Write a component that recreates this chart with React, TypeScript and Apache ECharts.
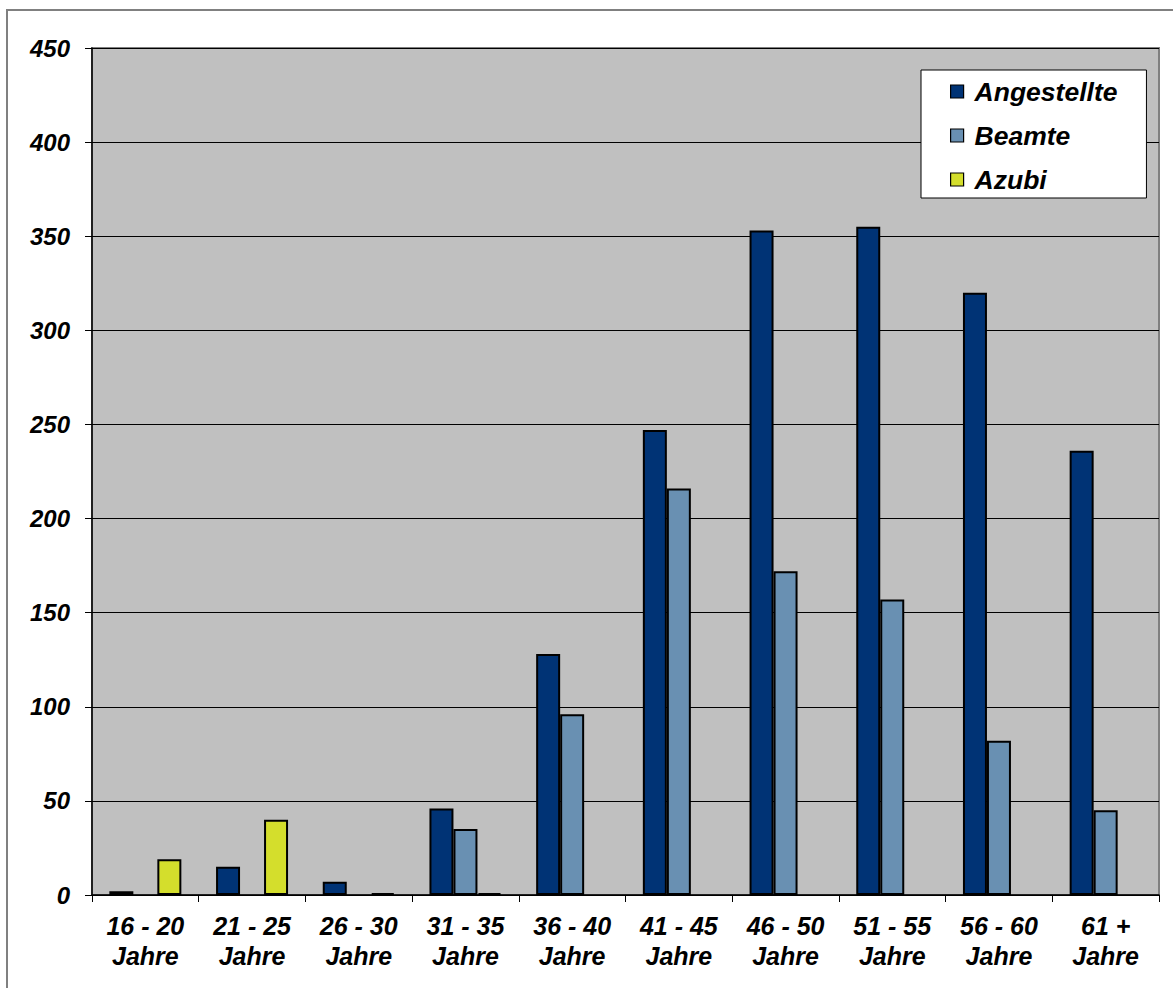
import React, { useEffect, useRef } from "react";
import * as echarts from "echarts";

// Altersgruppen
const categories = [
  "16 - 20\nJahre",
  "21 - 25\nJahre",
  "26 - 30\nJahre",
  "31 - 35\nJahre",
  "36 - 40\nJahre",
  "41 - 45\nJahre",
  "46 - 50\nJahre",
  "51 - 55\nJahre",
  "56 - 60\nJahre",
  "61 +\nJahre",
];

const angestellte = [2, 15, 7, 46, 128, 247, 353, 355, 320, 236];
const beamte = [0, 0, 0, 35, 96, 216, 172, 157, 82, 45];
const azubi = [19, 40, 1, 1, 0, 0, 0, 0, 0, 0];

const yTicks = { min: 0, max: 450, interval: 50 };

const FONT = "'Liberation Sans', Arial, Helvetica, sans-serif";

// Zero values are left empty so no outline is drawn on the baseline
const toBarData = (values: number[]) => values.map((v) => (v === 0 ? "-" : v));

export default function App() {
  const ref = useRef<HTMLDivElement>(null);

  useEffect(() => {
    if (!ref.current) return;
    const chart = echarts.init(ref.current, undefined, { renderer: "svg" });

    const barStyle = (color: string) => ({
      color,
      borderColor: "#000000",
      borderWidth: 2,
    });

    chart.setOption({
      animation: false,
      backgroundColor: "#ffffff",
      textStyle: { fontFamily: FONT },
      graphic: [
        {
          type: "rect",
          shape: { x: 7, y: 10, width: 1300, height: 1100 },
          style: { fill: "none", stroke: "#808080", lineWidth: 2 },
          silent: true,
          z: -1,
        },
      ],
      grid: {
        left: 92,
        top: 48,
        right: 14,
        bottom: 93,
        show: true,
        backgroundColor: "#C0C0C0",
        borderColor: "#808080",
        borderWidth: 2,
      },
      legend: {
        orient: "vertical",
        left: 921,
        top: 70,
        backgroundColor: "#ffffff",
        borderColor: "#000000",
        borderWidth: 1,
        borderRadius: 0,
        padding: [8, 29, 5, 29],
        itemGap: 17,
        itemWidth: 13,
        itemHeight: 13,
        icon: "rect",
        textStyle: {
          fontFamily: FONT,
          fontSize: 26.5,
          fontWeight: "bold",
          fontStyle: "italic",
          color: "#000000",
          padding: [0, 0, 0, 6],
        },
        itemStyle: { borderColor: "#000000", borderWidth: 1.2 },
        data: ["Angestellte", "Beamte", "Azubi"],
      },
      xAxis: {
        type: "category",
        data: categories,
        boundaryGap: true,
        axisLine: { show: true, lineStyle: { color: "#000000", width: 1.5 } },
        axisTick: {
          show: true,
          alignWithLabel: false,
          length: 7,
          lineStyle: { color: "#000000", width: 1 },
        },
        axisLabel: {
          interval: 0,
          margin: 16,
          fontFamily: FONT,
          fontSize: 25,
          fontWeight: "bold",
          fontStyle: "italic",
          color: "#000000",
          lineHeight: 30,
          align: "center",
        },
      },
      yAxis: {
        type: "value",
        min: yTicks.min,
        max: yTicks.max,
        interval: yTicks.interval,
        axisLine: { show: true, lineStyle: { color: "#000000", width: 1.5 } },
        axisTick: {
          show: true,
          length: 7,
          lineStyle: { color: "#000000", width: 1 },
        },
        splitLine: { show: true, lineStyle: { color: "#000000", width: 1 } },
        axisLabel: {
          margin: 22,
          fontFamily: FONT,
          fontSize: 24,
          fontWeight: "bold",
          fontStyle: "italic",
          color: "#000000",
        },
      },
      series: [
        {
          name: "Angestellte",
          type: "bar",
          data: toBarData(angestellte),
          barWidth: 24,
          barGap: "0%",
          itemStyle: barStyle("#003375"),
        },
        {
          name: "Beamte",
          type: "bar",
          data: toBarData(beamte),
          barWidth: 24,
          barGap: "0%",
          itemStyle: barStyle("#6990B2"),
        },
        {
          name: "Azubi",
          type: "bar",
          data: toBarData(azubi),
          barWidth: 24,
          barGap: "0%",
          itemStyle: barStyle("#D4DE2C"),
        },
      ],
    });

    return () => chart.dispose();
  }, []);

  return (
    <div
      ref={ref}
      style={{ position: "absolute", left: 0, top: 0, width: 1173, height: 988 }}
    />
  );
}
